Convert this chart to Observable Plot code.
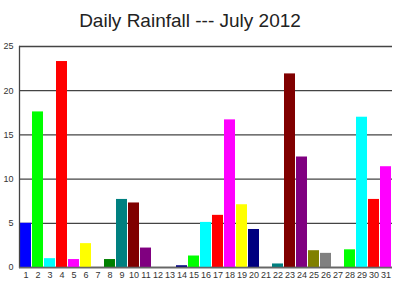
<!DOCTYPE html>
<html>
<head>
<meta charset="utf-8">
<script src="https://cdn.jsdelivr.net/npm/d3@7"></script>
<script src="https://cdn.jsdelivr.net/npm/@observablehq/plot@0.6"></script>
<style>
  html, body { margin: 0; padding: 0; background: #fff; }
  #wrap { width: 400px; height: 300px; position: relative; overflow: hidden; }
  #title { position: absolute; left: 0; top: 10px; width: 380px; text-align: center;
    font-family: "Liberation Sans", Arial, sans-serif; font-size: 19px; color: #222; }
  #chart { position: absolute; left: 0; top: 36px; }
</style>
</head>
<body>
<div id="wrap">
  <div id="title">Daily Rainfall --- July 2012</div>
  <div id="chart"></div>
</div>
<script>
const days = d3.range(1, 32);
const rainfall = [5.0, 17.6, 1.0, 23.3, 0.9, 2.7, 0, 0.9, 7.7, 7.3, 2.2, 0, 0, 0.2, 1.3,
  5.1, 5.9, 16.7, 7.1, 4.3, 0, 0.4, 21.9, 12.5, 1.9, 1.6, 0, 2.0, 17.0, 7.7, 11.4];
const barColors = ["#0000ff", "#00ff00", "#00ffff", "#ff0000", "#ff00ff", "#ffff00", "#000080",
  "#008000", "#008080", "#800000", "#800080", "#808000", "#808080", "#000080", "#00ff00",
  "#00ffff", "#ff0000", "#ff00ff", "#ffff00", "#000080", "#008000", "#008080", "#800000",
  "#800080", "#808000", "#808080", "#000080", "#00ff00", "#00ffff", "#ff0000", "#ff00ff"];
const yTicks = [0, 5, 10, 15, 20, 25];

const data = days.map((d, i) => ({day: d, value: rainfall[i], color: barColors[i]}));

const chart = Plot.plot({
  width: 400,
  height: 264,
  marginLeft: 19,
  marginRight: 8,
  marginTop: 10,
  marginBottom: 33,
  style: {fontFamily: "'Liberation Sans', Arial, sans-serif", fontSize: "9px", color: "#333", background: "#fff"},
  x: {domain: days, padding: 0.1, paddingOuter: 0.03, label: null, tickSize: 0, tickPadding: 4},
  y: {domain: [0, 25], ticks: yTicks, label: null, tickSize: 0, tickPadding: 6},
  marks: [
    Plot.ruleY(yTicks, {stroke: "#444", strokeWidth: 1.3}),
    Plot.barY(data, {x: "day", y: "value", fill: "color"}),
    Plot.frame({anchor: "left", stroke: "#444", strokeWidth: 1.3}),
    Plot.ruleY([0], {stroke: "#666", strokeWidth: 1.3})
  ]
});
document.getElementById("chart").appendChild(chart);
</script>
</body>
</html>
